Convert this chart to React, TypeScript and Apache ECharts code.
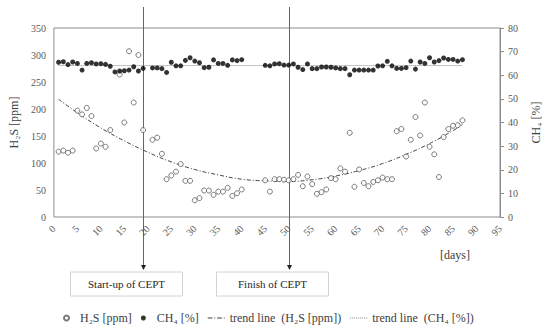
import React, { useEffect, useRef } from "react";
import * as echarts from "echarts";

const h2sDays = [1, 2, 3, 4, 5, 6, 7, 8, 9, 10, 11, 12, 14, 15, 16, 17, 18, 19, 21, 22, 23, 24, 25, 26, 27, 28, 29, 30, 31, 32, 33, 34, 35, 36, 37, 38, 39, 40, 45, 46, 47, 48, 49, 50, 51, 52, 53, 54, 55, 56, 57, 58, 59, 60, 61, 62, 63, 64, 65, 66, 67, 68, 69, 70, 71, 72, 73, 74, 75, 76, 77, 78, 79, 80, 81, 82, 83, 84, 85, 86, 87];
const h2sValues = [121, 123, 119, 123, 197, 190, 202, 187, 127, 136, 130, 161, 264, 175, 307, 212, 300, 161, 143, 147, 117, 70, 77, 84, 98, 67, 67, 31, 35, 49, 49, 41, 47, 47, 54, 39, 44, 51, 68, 47, 70, 70, 69, 68, 70, 78, 57, 75, 61, 43, 46, 51, 72, 70, 90, 84, 156, 56, 88, 63, 57, 65, 68, 73, 70, 70, 159, 163, 112, 143, 185, 151, 212, 130, 116, 74, 148, 163, 169, 170, 179];

const ch4Days = [1, 2, 3, 4, 5, 6, 7, 8, 9, 10, 11, 12, 13, 14, 15, 16, 17, 18, 19, 21, 22, 23, 24, 25, 26, 27, 28, 29, 30, 31, 32, 33, 34, 35, 36, 37, 38, 39, 40, 45, 46, 47, 48, 49, 50, 51, 52, 53, 54, 55, 56, 57, 58, 59, 60, 61, 62, 63, 64, 65, 66, 67, 68, 69, 70, 71, 72, 73, 74, 75, 76, 77, 78, 79, 80, 81, 82, 83, 84, 85, 86, 87];
const ch4Values = [65.5, 65.7, 64.5, 65.6, 65.0, 62.2, 65.0, 65.3, 64.8, 64.9, 64.6, 63.8, 61.4, 61.8, 61.9, 62.2, 63.6, 61.8, 62.9, 63.1, 63.1, 62.8, 61.2, 65.5, 64.0, 64.0, 66.3, 67.4, 66.0, 65.3, 63.2, 63.4, 66.5, 65.0, 65.0, 64.2, 66.5, 66.2, 66.6, 64.2, 64.0, 64.8, 64.9, 64.3, 64.3, 64.8, 63.4, 62.4, 64.8, 62.8, 62.8, 63.5, 63.5, 63.4, 63.1, 62.8, 62.8, 60.2, 62.2, 62.2, 62.2, 62.2, 62.2, 63.9, 64.0, 65.9, 64.0, 62.9, 62.9, 63.2, 66.0, 62.6, 65.6, 65.0, 67.4, 65.6, 66.2, 67.3, 66.7, 66.7, 66.0, 66.6];

const h2sTrendDays = [1, 5, 10, 15, 20, 25, 30, 35, 40, 45, 50, 55, 60, 65, 70, 75, 80, 85, 87];
const h2sTrendValues = [218, 193, 165, 141, 120, 102, 88, 78, 70, 67, 66, 69, 76, 86, 99, 116, 136, 160, 171];

const ch4TrendDays = [1, 87];
const ch4TrendValues = [64.1, 64.1];

const markerDays = [19, 50];
const markerLabels = ["Start-up of CEPT", "Finish of CEPT"];

const FONT = "'Liberation Serif', 'Times New Roman', serif";
const TXT = "#404040";
const AX = "#8c8c8c";

const DASHDOT_ICON = "path://M0 0h5v1H0z M7 0h1v1H7z M10 0h5v1h-5z M17 0h1v1h-1z";
const DOTTED_ICON = "path://M0 0h1v1H0z M2 0h1v1H2z M4 0h1v1H4z M6 0h1v1H6z M8 0h1v1H8z M10 0h1v1h-1z M12 0h1v1h-1z M14 0h1v1h-1z M16 0h1v1h-1z";

export default function App() {
  const ref = useRef<HTMLDivElement>(null);
  useEffect(() => {
    if (!ref.current) return;
    const chart = echarts.init(ref.current, undefined, { renderer: "svg" });
    const option: any = {
      animation: false,
      textStyle: { fontFamily: FONT },
      grid: {
        left: 49,
        right: 48,
        top: 28,
        bottom: 111,
        show: true,
        borderColor: AX,
        borderWidth: 1,
        backgroundColor: "transparent",
      },
      legend: {
        left: 58,
        top: 307,
        itemWidth: 17,
        itemHeight: 5,
        itemGap: 9,
        textStyle: { fontFamily: FONT, fontSize: 12, color: TXT },
        data: [
          { name: "H₂S [ppm]", icon: "circle" },
          { name: "CH₄ [%]", icon: "circle" },
          { name: "trend line  (H₂S [ppm])", icon: DASHDOT_ICON },
          { name: "trend line  (CH₄ [%])", icon: DOTTED_ICON },
        ],
      },
      xAxis: {
        type: "value",
        min: 0,
        max: 95,
        interval: 5,
        axisLine: { show: false },
        axisTick: { show: false },
        splitLine: { show: false },
        axisLabel: { rotate: 45, fontSize: 10, color: "#595959", margin: 10, fontFamily: FONT },
      },
      yAxis: [
        {
          type: "value",
          min: 0,
          max: 350,
          interval: 50,
          axisLine: { show: false },
          axisTick: { show: false },
          splitLine: { show: false },
          axisLabel: { fontSize: 10, color: "#595959", margin: 8, fontFamily: FONT },
          name: "H₂S [ppm]",
          nameLocation: "middle",
          nameRotate: 90,
          nameGap: 28,
          nameTextStyle: { fontSize: 12, color: TXT, fontFamily: FONT },
        },
        {
          type: "value",
          min: 0,
          max: 80,
          interval: 10,
          position: "right",
          axisLine: { show: true, lineStyle: { color: AX } },
          axisTick: { show: true, inside: false, length: 4, lineStyle: { color: AX } },
          splitLine: { show: false },
          axisLabel: { fontSize: 10, color: "#595959", margin: 8, fontFamily: FONT },
          name: "CH₄ [%]",
          nameLocation: "middle",
          nameRotate: 90,
          nameGap: 30,
          nameTextStyle: { fontSize: 12, color: TXT, fontFamily: FONT },
        },
      ],
      series: [
        {
          name: "H₂S [ppm]",
          type: "scatter",
          yAxisIndex: 0,
          symbol: "circle",
          symbolSize: 5,
          itemStyle: { color: "#ffffff", borderColor: "#595959", borderWidth: 1 },
          data: h2sDays.map((d, i) => [d, h2sValues[i]]),
          z: 3,
        },
        {
          name: "CH₄ [%]",
          type: "scatter",
          yAxisIndex: 1,
          symbol: "circle",
          symbolSize: 5,
          itemStyle: { color: "#000000" },
          data: ch4Days.map((d, i) => [d, ch4Values[i]]),
          z: 3,
        },
        {
          name: "trend line  (H₂S [ppm])",
          type: "line",
          yAxisIndex: 0,
          smooth: true,
          symbol: "none",
          lineStyle: { color: "#404040", width: 1, type: [4, 2, 1, 2] },
          itemStyle: { color: "#404040" },
          data: h2sTrendDays.map((d, i) => [d, h2sTrendValues[i]]),
          z: 2,
        },
        {
          name: "trend line  (CH₄ [%])",
          type: "line",
          yAxisIndex: 1,
          symbol: "none",
          lineStyle: { color: "#808080", width: 1, type: [1, 1] },
          itemStyle: { color: "#808080" },
          data: ch4TrendDays.map((d, i) => [d, ch4TrendValues[i]]),
          z: 2,
        },
      ],
    };
    chart.setOption(option);

    const graphics: any[] = [];
    markerDays.forEach((d, i) => {
      const x = Math.round(chart.convertToPixel({ xAxisIndex: 0 }, d) as number) + 0.5;
      graphics.push({
        type: "line",
        shape: { x1: x, y1: 7, x2: x, y2: 266 },
        style: { stroke: "#666666", lineWidth: 1 },
        silent: true,
      });
      graphics.push({
        type: "polygon",
        shape: { points: [[x - 2.5, 265], [x + 2.5, 265], [x, 270]] },
        style: { fill: "#222222" },
        silent: true,
      });
      graphics.push({
        type: "rect",
        shape: { x: x - 73, y: 272, width: 112, height: 24 },
        style: { fill: "#ffffff", stroke: "#d4d4d4", lineWidth: 1 },
        silent: true,
      });
      graphics.push({
        type: "text",
        style: {
          text: markerLabels[i],
          x: x - 17,
          y: 284,
          align: "center",
          verticalAlign: "middle",
          font: `11px ${FONT}`,
          fill: "#262626",
        },
        silent: true,
      });
    });
    graphics.push({
      type: "text",
      style: {
        text: "[days]",
        x: 455,
        y: 255,
        align: "center",
        verticalAlign: "middle",
        font: `12px ${FONT}`,
        fill: TXT,
      },
      silent: true,
    });
    chart.setOption({ graphic: graphics });

    return () => chart.dispose();
  }, []);
  return (
    <div
      ref={ref}
      style={{ position: "fixed", left: 0, top: 0, width: 550, height: 328, background: "#ffffff" }}
    />
  );
}
